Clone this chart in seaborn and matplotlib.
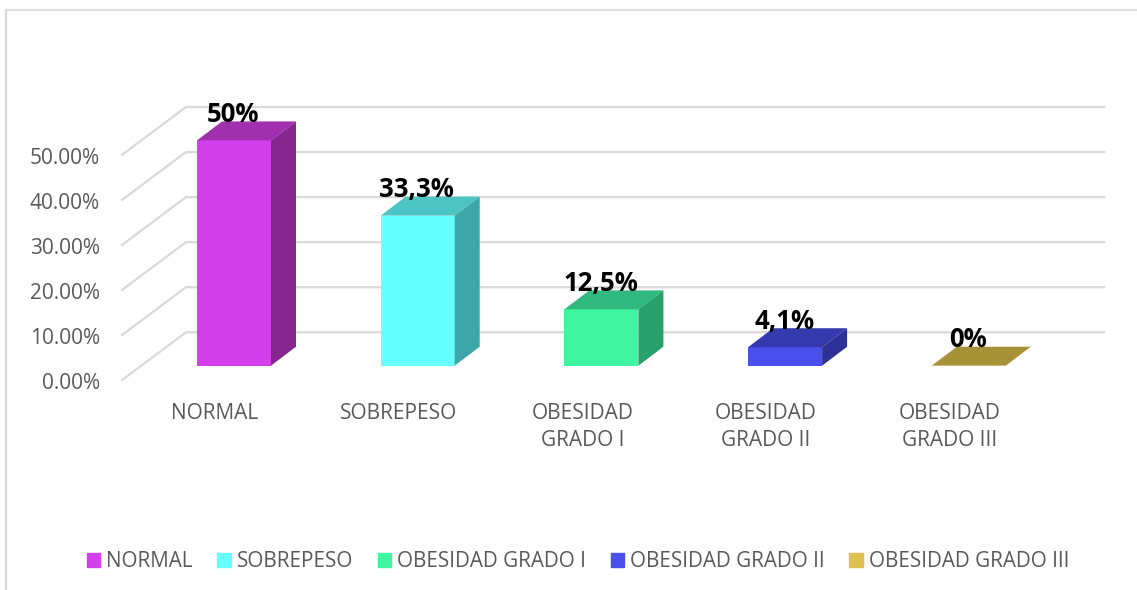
import matplotlib
matplotlib.use('Agg')
import matplotlib.pyplot as plt
from matplotlib.lines import Line2D
from matplotlib.patches import Patch
import numpy as np
import seaborn as sns

categories = ['NORMAL', 'SOBREPESO', 'OBESIDAD GRADO I',
              'OBESIDAD GRADO II', 'OBESIDAD GRADO III']
tick_names = ['NORMAL', 'SOBREPESO', 'OBESIDAD\nGRADO I',
              'OBESIDAD\nGRADO II', 'OBESIDAD\nGRADO III']
values = [50, 33.3, 12.5, 4.1, 0]
value_labels = ['50%', '33,3%', '12,5%', '4,1%', '0%']
axis_values = [0, 10, 20, 30, 40, 50]
axis_labels = ['0.00%', '10.00%', '20.00%', '30.00%', '40.00%', '50.00%']

front_colors = ['#D340EB', '#66FFFF', '#40F5A0', '#4A50EC', '#DDC04F']
top_colors = ['#A030AE', '#4DC4C4', '#30B87F', '#3539AE', '#A89238']
side_colors = ['#86268F', '#3DA6A8', '#27A06B', '#2D3095', '#8A7830']

W, H = 1137, 590
GRID = '#D9D9D9'
TEXT = '#595959'
FONT = 'Open Sans'

# pixel scale of the picture
PX_X = 183.7
PX_Y = 4.52
X0, Y0 = 234, 366.5
left, right, bottom, top = 122, 1104, 381, 107

depth_x = 25 / PX_X
depth_y = 19 / PX_Y
floor_front = (Y0 - bottom) / PX_Y
floor_back = (Y0 - 333) / PX_Y
wall_x = (186 - X0) / PX_X
bar_width = 74 / PX_X

plt.rcParams['font.family'] = [FONT, 'DejaVu Sans']

fig = plt.figure(figsize=(W / 100, H / 100), dpi=100)
ax = fig.add_axes([left / W, 1 - bottom / H, (right - left) / W, (bottom - top) / H])

sns.barplot(x=tick_names, y=values, hue=tick_names, palette=front_colors,
            width=bar_width, saturation=1, legend=False, ax=ax, zorder=3)

xlim = ((left - X0) / PX_X, (right - X0) / PX_X)
ylim = (floor_front, (Y0 - top) / PX_Y)
ax.set_xlim(xlim)
ax.set_ylim(ylim)

# back wall and floor lines
for v in axis_values:
    ax.plot([xlim[0], wall_x, xlim[1]],
            [v + floor_front, v + floor_back, v + floor_back],
            color=GRID, lw=1.6, zorder=1, clip_on=False)

# 3d faces of each bar
half = bar_width / 2
for i, v in enumerate(values):
    ax.fill([i - half, i + half, i + half + depth_x, i - half + depth_x],
            [v, v, v + depth_y, v + depth_y], color=top_colors[i], lw=0, zorder=4)
    if v > 0:
        ax.fill([i + half, i + half + depth_x, i + half + depth_x, i + half],
                [0, depth_y, v + depth_y, v], color=side_colors[i], lw=0, zorder=4)
    ax.text(i - 0.005, v + 26 / PX_Y, value_labels[i], ha='center', va='center',
            fontsize=18.5, fontweight='bold', color='black', zorder=5)

ax.set_yticks([v + floor_front - 0.2 for v in axis_values], axis_labels)
ax.set_xticks([i - 19 / PX_X for i in range(len(values))], tick_names)
ax.tick_params(axis='y', length=0, pad=16, labelsize=15, labelcolor=TEXT)
ax.tick_params(axis='x', length=0, pad=16, labelsize=15, labelcolor=TEXT)
for label in ax.get_xticklabels():
    label.set_linespacing(1.38)
sns.despine(ax=ax, left=True, bottom=True)
ax.set_xlabel('')
ax.patch.set_alpha(0)

handles = [Patch(color=c, label=n) for c, n in zip(front_colors, categories)]
fig.legend(handles=handles, loc='center', bbox_to_anchor=(578 / W, 1 - 561.5 / H),
           ncol=5, frameon=False, fontsize=14.9, labelcolor=TEXT,
           handlelength=0.65, handleheight=0.65, handletextpad=0.3,
           columnspacing=1.18)

# chart border, top and left only
fig.add_artist(Line2D([6 / W, 6 / W], [0, 1 - 10 / H], color=GRID, lw=1.6))
fig.add_artist(Line2D([6 / W, 1], [1 - 10 / H, 1 - 10 / H], color=GRID, lw=1.2))

fig.savefig('out.png', dpi=100)
